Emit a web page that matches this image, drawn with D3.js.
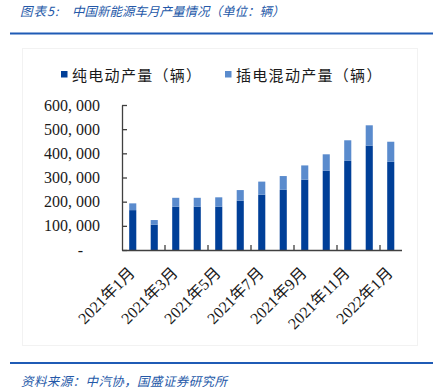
<!DOCTYPE html>
<html>
<head>
<meta charset="utf-8">
<script src="https://cdn.jsdelivr.net/npm/d3@7"></script>
<style>
  body { margin: 0; background: #fff; }
  svg { display: block; }
</style>
</head>
<body>
<script>
// data, units: vehicles
var months = ["2021年1月", "2021年2月", "2021年3月", "2021年4月", "2021年5月", "2021年6月",
    "2021年7月", "2021年8月", "2021年9月", "2021年10月", "2021年11月", "2021年12月", "2022年1月"];
var bev = [165000, 105000, 179000, 179000, 179000, 204000, 229000, 249000, 291000, 328000, 369000, 432000, 365000];
var phev = [28000, 19000, 37000, 37000, 39000, 44000, 54000, 57000, 59000, 68000, 85000, 84000, 83000];
var seriesNames = ["纯电动产量（辆）", "插电混动产量（辆）"];
var yTicks = [0, 100000, 200000, 300000, 400000, 500000, 600000];

var colors = ["#003f98", "#5a8bcd"];
var blue = "#2458a8";
var cjk = "'Noto Sans CJK SC', sans-serif";
var serif = "'Liberation Serif', 'Noto Sans CJK SC', serif";

var W = 436, H = 391;
var plot = { left: 122, top: 105, right: 401.5, bottom: 250 };

var svg = d3.select("body").append("svg")
    .attr("width", W)
    .attr("height", H);

svg.append("rect").attr("width", W).attr("height", H).attr("fill", "#fff");

// faint frame of the chart area
svg.append("rect")
    .attr("x", 22.5).attr("y", 48.5)
    .attr("width", 395).attr("height", 297)
    .attr("fill", "none")
    .attr("stroke", "#f2f2f2");

// title + rules
var title = svg.append("text")
    .attr("y", 16)
    .attr("fill", blue)
    .style("font-family", cjk)
    .style("font-size", "12.5px")
    .style("font-style", "italic");
title.append("tspan").attr("x", 20).style("letter-spacing", "1px").text("图表5:");
title.append("tspan").attr("x", 72).text("中国新能源车月产量情况（单位：辆）");

svg.append("line")
    .attr("x1", 10).attr("x2", 433).attr("y1", 33.5).attr("y2", 33.5)
    .attr("stroke", "#1f5bb5").attr("stroke-width", 2);

svg.append("line")
    .attr("x1", 10).attr("x2", 433).attr("y1", 363).attr("y2", 363)
    .attr("stroke", "#1f5bb5").attr("stroke-width", 2);

svg.append("text")
    .attr("x", 21).attr("y", 386)
    .attr("fill", blue)
    .style("font-family", cjk)
    .style("font-size", "12.5px")
    .style("font-style", "italic")
    .style("letter-spacing", "0.4px")
    .text("资料来源：中汽协，国盛证券研究所");

// scales
var x = d3.scaleBand()
    .domain(months)
    .range([plot.left, plot.right])
    .padding(0);

var y = d3.scaleLinear()
    .domain([0, 600000])
    .range([plot.bottom, plot.top]);

var barW = x.bandwidth() * 0.33;

// stacked bars
var table = months.map(function (m, i) {
    return { month: m, bev: bev[i], phev: phev[i] };
});
var stack = d3.stack().keys(["bev", "phev"]);
var layers = stack(table);

svg.selectAll(".layer")
    .data(layers)
    .enter().append("g")
    .attr("class", "layer")
    .attr("fill", function (d, i) { return colors[i]; })
    .selectAll("rect")
    .data(function (d) { return d; })
    .enter().append("rect")
    .attr("x", function (d) { return x(d.data.month) + (x.bandwidth() - barW) / 2; })
    .attr("width", barW)
    .attr("y", function (d) { return y(d[1]); })
    .attr("height", function (d) { return y(d[0]) - y(d[1]); });

// y axis
var fmt = d3.format(",");
var yAxis = d3.axisLeft(y)
    .tickValues(yTicks)
    .tickSizeInner(-5)
    .tickSizeOuter(0)
    .tickPadding(22)
    .tickFormat(function (d) { return d === 0 ? "-" : fmt(d).replace(",", ", "); });

var gy = svg.append("g")
    .attr("transform", "translate(" + plot.left + ",0)")
    .call(yAxis);
gy.select(".domain").attr("stroke", "#404040").attr("stroke-width", 1.3);
gy.selectAll(".tick line").attr("stroke", "#404040").attr("stroke-width", 1.3);
gy.selectAll(".tick text")
    .attr("fill", "#1a1a1a")
    .style("font-family", serif)
    .style("font-size", "16px");
gy.selectAll(".tick text")
    .filter(function (d) { return d === 0; })
    .attr("dx", -17);

// x axis: labels every other month, tick marks between label groups
var labelMonths = months.filter(function (m, i) { return i % 2 === 0; });
var xAxis = d3.axisBottom(x)
    .tickValues(labelMonths)
    .tickSize(0)
    .tickPadding(0);

var gx = svg.append("g")
    .attr("transform", "translate(0," + plot.bottom + ")")
    .call(xAxis);
gx.select(".domain").attr("stroke", "#404040").attr("stroke-width", 1.3);
gx.selectAll(".tick text")
    .attr("fill", "#1a1a1a")
    .style("font-family", serif)
    .style("font-size", "16px")
    .attr("text-anchor", "end")
    .attr("dy", 0)
    .attr("y", 0)
    .attr("transform", "translate(3,24) rotate(-45)");

gx.selectAll(".minor")
    .data(months.filter(function (m, i) { return i > 0 && i % 2 === 0; }))
    .enter().append("line")
    .attr("class", "minor")
    .attr("x1", function (d) { return x(d); })
    .attr("x2", function (d) { return x(d); })
    .attr("y1", 0).attr("y2", -5)
    .attr("stroke", "#404040").attr("stroke-width", 1.3);

// legend
var legend = svg.append("g").attr("class", "legend");
var legX = [61, 225];
seriesNames.forEach(function (name, i) {
    legend.append("rect")
        .attr("x", legX[i]).attr("y", 71)
        .attr("width", 6.5).attr("height", 6.5)
        .attr("fill", colors[i]);
    legend.append("text")
        .attr("x", legX[i] + 11).attr("y", 74)
        .attr("dominant-baseline", "central")
        .attr("fill", "#1a1a1a")
        .style("font-family", cjk)
        .style("font-size", "15px")
        .style("letter-spacing", "1.3px")
        .text(name);
});
</script>
</body>
</html>
